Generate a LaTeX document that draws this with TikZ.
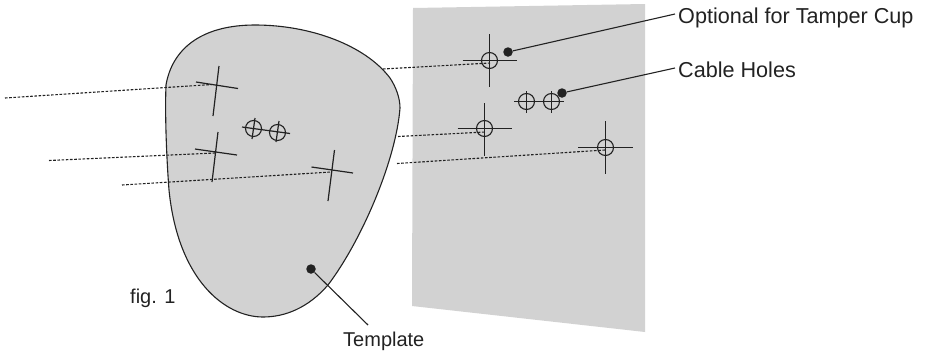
\documentclass[tikz,border=0pt]{standalone}
\usepackage{fontspec}
\setmainfont{Liberation Sans}
\definecolor{sheet}{HTML}{D2D2D2}
\definecolor{ink}{HTML}{222222}
\tikzset{
  mark line/.style={draw=ink,line width=1.2pt},
  guide line/.style={draw=ink,line width=1.1pt,dash pattern=on 2.6pt off 1.6pt},
  leader line/.style={draw=ink,line width=1.1pt},
  leader dot/.style={circle,fill=ink,inner sep=0pt,minimum size=9.5pt},
  hole/.style={circle,draw=ink,line width=1.1pt,inner sep=0pt,minimum size=#1},
  label text/.style={font=\fontsize{21.6}{24}\selectfont,text=ink,inner sep=0pt},
  small text/.style={font=\fontsize{20}{24}\selectfont,text=ink,inner sep=0pt}
}
\begin{document}
\begin{tikzpicture}[x=1pt,y=-1pt]
\useasboundingbox (0,0) rectangle (926,354);
% sheet
\fill[sheet] (413,8) -- (645,4) -- (645,332) -- (412,306) -- cycle;
% template
\filldraw[fill=sheet,draw=ink,line width=1.1pt]
 (255,25) .. controls (310,25) and (365,45) .. (390,78)
 .. controls (396,87) and (400,98) .. (400,108)
 .. controls (396,160) and (362,240) .. (328,285)
 .. controls (308,308) and (285,317) .. (263,317)
 .. controls (225,317) and (178,280) .. (169,190)
 .. controls (166,150) and (165,110) .. (166,85)
 .. controls (172,50) and (200,25) .. (255,25) -- cycle;
% guides
\coordinate (g1a) at (5,98);   \coordinate (g1b) at (212,84.5);
\coordinate (g2a) at (49,160.5); \coordinate (g2b) at (215,153);
\coordinate (g3a) at (122,185); \coordinate (g3b) at (331,172);
\coordinate (g4a) at (383,69); \coordinate (g4b) at (490,63);
\coordinate (g5a) at (398,136.5); \coordinate (g5b) at (485,132);
\coordinate (g6a) at (397,163.5); \coordinate (g6b) at (605,150);
\draw[guide line] (g1a) -- (g1b);
\draw[guide line] (g2a) -- (g2b);
\draw[guide line] (g3a) -- (g3b);
\draw[guide line] (g4a) -- (g4b);
\draw[guide line] (g5a) -- (g5b);
\draw[guide line] (g6a) -- (g6b);
% template crosses
\draw[mark line] (196,82) -- (238,88.5) (219,66) -- (213,116);
\draw[mark line] (195,149) -- (237,155) (218,132) -- (212,182);
\draw[mark line] (311.5,167) -- (353,173) (334.5,150) -- (328,201);
% template cable holes
\draw[mark line] (242,127) -- (290,133.5) (255,118) -- (252,139) (279,121) -- (276,142);
\node[hole=16pt] (th1) at (253.5,128.5) {};
\node[hole=16pt] (th2) at (277.5,132.5) {};
% sheet crosses
\draw[mark line] (462.5,60.5) -- (517,60.5) (489.5,34) -- (489.5,87);
\node[hole=16pt] (sh1) at (489.5,60.5) {};
\draw[mark line] (457.5,128.5) -- (511.5,128.5) (484.5,103) -- (484.5,155.5);
\node[hole=16pt] (sh2) at (484.5,128.5) {};
\draw[mark line] (578,147.5) -- (632.5,147.5) (605.5,121) -- (605.5,174);
\node[hole=16pt] (sh3) at (605.5,147.5) {};
\draw[mark line] (514,101.5) -- (564,101.5) (526.5,91) -- (526.5,113) (551.5,91) -- (551.5,113);
\node[hole=16pt] (sh4) at (526.5,101.5) {};
\node[hole=16pt] (sh5) at (551.5,101.5) {};
% labels
\node[label text,anchor=base west] (optional) at (678,23.5) {Optional for Tamper Cup};
\node[label text,anchor=base west] (cable) at (678,77.5) {Cable Holes};
\node[small text,anchor=base west] (template) at (343,346.5) {Template};
\node[small text,anchor=base west] (fig) at (130,303) {fig. 1};
% leaders
\node[leader dot] (d1) at (508,52) {};
\node[leader dot] (d2) at (562,93) {};
\node[leader dot] (d3) at (311,269) {};
\coordinate (e1) at (675,14);
\coordinate (e2) at (675,68);
\coordinate (e3) at (368,325);
\draw[leader line] (d1) -- (e1);
\draw[leader line] (d2) -- (e2);
\draw[leader line] (d3) -- (e3);
\end{tikzpicture}
\end{document}
